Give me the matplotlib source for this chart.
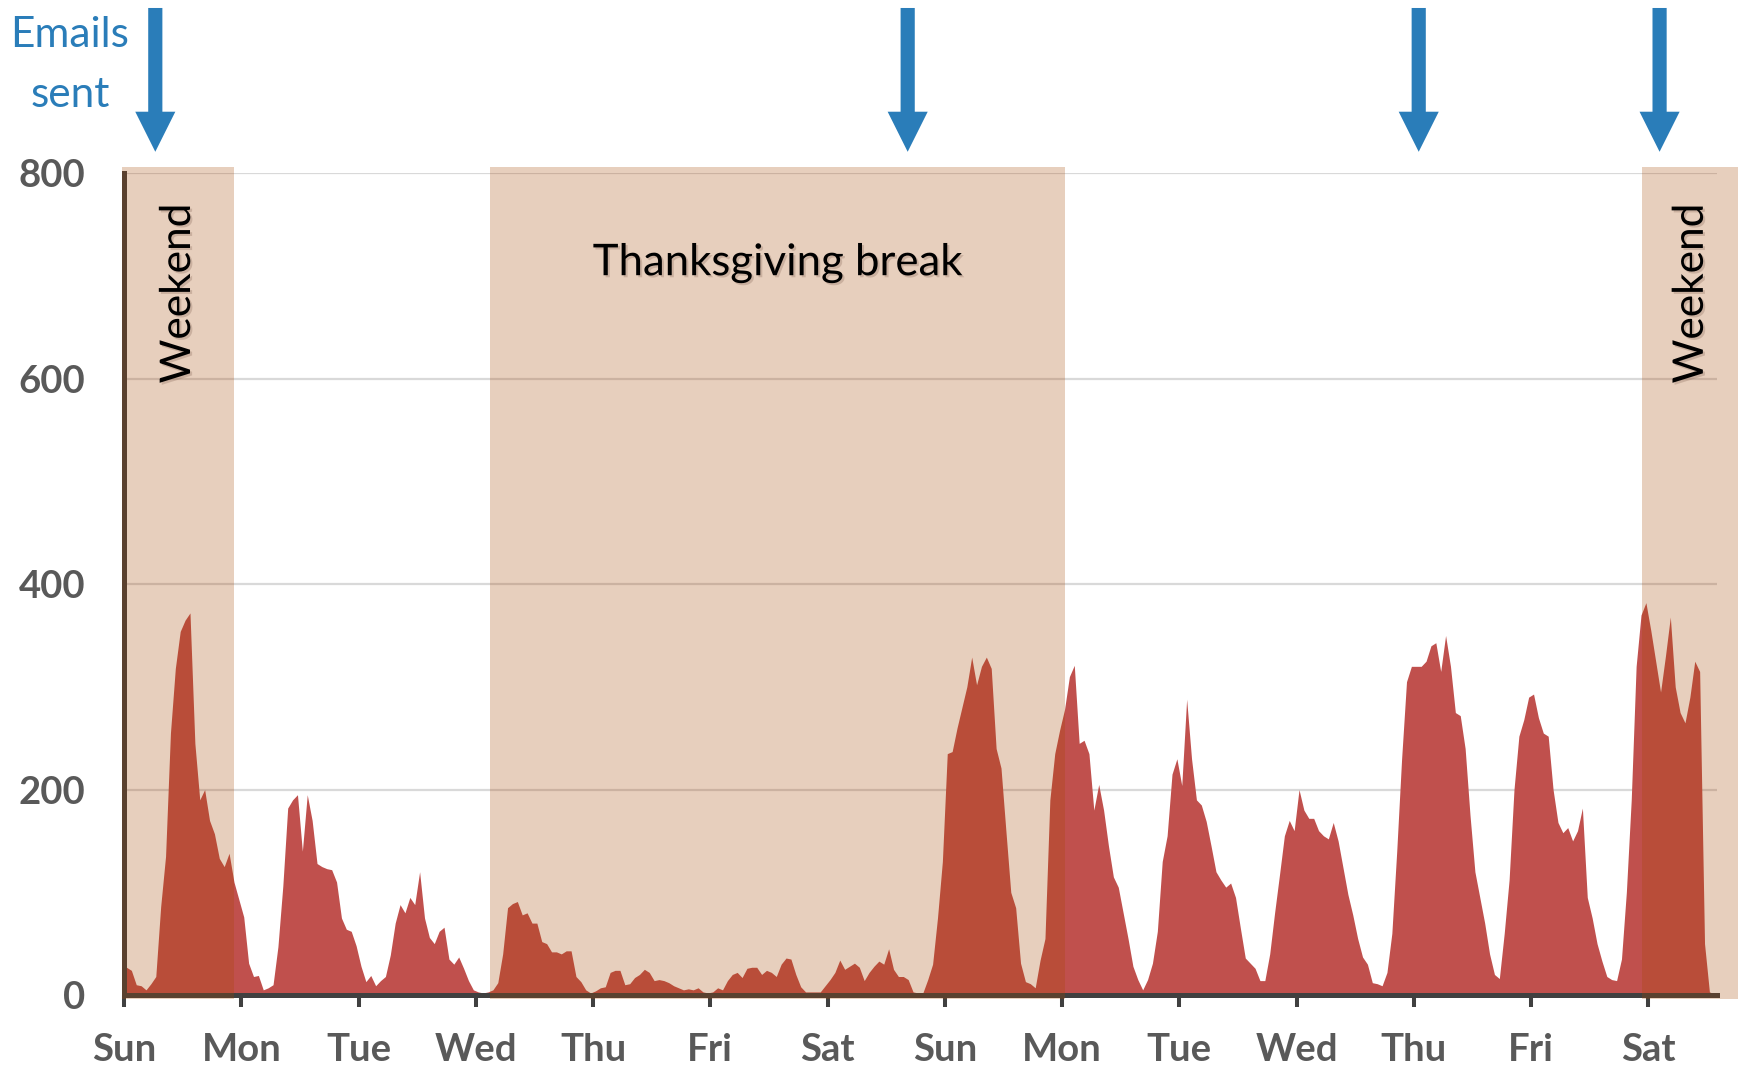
import numpy as np
import matplotlib.pyplot as plt
from matplotlib.patches import FancyArrow
import matplotlib.patheffects as pe

plt.rcParams['font.family'] = ['Lato', 'DejaVu Sans']

# hourly e-mail counts, two weeks starting on a Sunday
emails = [27, 24, 10, 9, 5, 11, 18, 86, 135, 255, 318, 354, 365, 372, 245, 190, 200, 170, 157, 133,
          125, 138, 110, 93, 76, 31, 18, 19, 5, 7, 10, 47, 106, 182, 190, 195, 140, 195, 170, 128,
          125, 123,
          122, 110, 75, 64, 62, 48, 28, 13, 19, 9, 14, 18, 39, 70, 88, 80, 95, 88, 120, 75,
          56, 50, 62, 66, 35, 30, 37, 26, 14, 5, 3, 2, 3, 5, 12, 40, 85, 89, 91, 78, 80, 70,
          70, 52, 50, 42, 42, 40, 43, 43, 18, 13, 5, 2, 4, 7, 8, 22, 24, 24, 10, 11,
          17, 20, 25, 22, 14, 15, 14, 12, 9, 7, 5, 6, 5, 7, 3, 2, 3, 7, 5, 14,
          20, 22, 17, 26, 27, 27, 20, 24, 22, 18, 30, 36, 35, 20, 8, 3, 3, 3, 3, 9,
          15, 22, 34, 25, 28, 31, 27, 14, 22, 28, 33, 30, 45, 25, 18, 18, 15, 3, 2, 2, 15,
          30, 75, 130, 235, 237, 260, 280, 300, 329, 302, 320, 329, 318, 240, 221, 160, 100, 85, 31, 13,
          11, 7, 34, 55, 190, 235, 258, 278, 310, 321, 245, 248, 235, 180, 205, 180, 145, 115, 105, 80, 55,
          28, 15, 5, 15, 31, 62, 130, 155, 215, 230, 204, 288, 230, 190, 185, 169, 145, 120, 112, 105,
          109, 95, 65, 36, 31, 26, 14, 14, 40, 80, 117, 155, 170, 160, 200,
          180, 172, 172, 160, 155, 152, 168, 150, 124, 98, 78, 55, 37, 30, 12, 11, 9, 22, 60, 140,
          230, 305, 320, 320, 320, 325, 340, 343, 315, 350, 320, 275, 272, 240, 175, 120, 95, 70, 40, 20,
          16, 60, 112, 200, 252, 268, 290, 293, 270, 255, 252, 200, 168, 158, 163, 150, 160, 182, 95, 75,
          50, 33, 18, 15, 14, 35, 100, 190, 320, 370, 382, 355, 325, 295, 330, 368, 300, 275, 265, 290,
          325, 315, 50, 3, 1]
day_labels = ['Sun', 'Mon', 'Tue', 'Wed', 'Thu', 'Fri', 'Sat',
              'Sun', 'Mon', 'Tue', 'Wed', 'Thu', 'Fri', 'Sat']
breaks = [(-0.5, 22.5), (75.0, 192.7), (310.7, 330.4)]   # hours
arrow_hours = [6.4, 160.4, 265.0, 314.3]

hours = np.arange(len(emails)) + 0.5

fig = plt.figure(figsize=(17.42, 10.70), dpi=100)
ax = fig.add_axes([0.0712, 0.0701, 0.9143, 0.7679])

ax.fill_between(hours, emails, 0, color='#c0504d', lw=0, zorder=2)

for a, b in breaks:
    ax.axvspan(a, b, ymin=-0.005, ymax=1.008, color='#a64601', alpha=0.26,
               lw=0, zorder=4, clip_on=False)

ax.set_xlim(0, len(emails))
ax.set_ylim(0, 800)
ax.set_yticks([0, 200, 400, 600, 800])
ax.set_xticks(np.arange(len(day_labels)) * 24)
ax.set_xticklabels(day_labels)
ax.set_axisbelow(True)
ax.grid(axis='y', color='#d9d9d9', lw=1.6)

for s in ['top', 'right']:
    ax.spines[s].set_visible(False)
ax.spines['left'].set_color('#404040')
ax.spines['left'].set_linewidth(3.6)
ax.spines['bottom'].set_color('#404040')
ax.spines['bottom'].set_linewidth(3.6)

ax.tick_params(axis='y', length=0, pad=28, labelsize=27.5, labelcolor='#595959')
ax.tick_params(axis='x', length=8.6, width=2.9, color='#404040', pad=19,
               labelsize=27.5, labelcolor='#595959')
for t in ax.get_xticklabels() + ax.get_yticklabels():
    t.set_fontweight('bold')

shadow = [pe.withSimplePatchShadow(offset=(1.5, -1.5), shadow_rgbFace='#8a6a5a', alpha=0.3)]
ax.text(11.05, 683, 'Weekend', rotation=90, ha='center', va='center',
        fontsize=30.5, color='black', zorder=6, path_effects=shadow)
ax.text(320.7, 683, 'Weekend', rotation=90, ha='center', va='center',
        fontsize=30.5, color='black', zorder=6, path_effects=shadow, clip_on=False)
ax.text(133.8, 713, 'Thanksgiving break', ha='center', va='center',
        fontsize=31.5, color='black', zorder=6, path_effects=shadow)

blue = '#2a7db9'
for h in arrow_hours:
    ax.add_patch(FancyArrow(h, 961, 0, -140, width=2.9, head_width=8.2, head_length=39,
                            length_includes_head=True, color=blue, lw=0, clip_on=False, zorder=6))

fig.text(70 / 1742, 1 - 47 / 1070, 'Emails', ha='center', va='baseline', fontsize=30.5, color=blue)
fig.text(70 / 1742, 1 - 107 / 1070, 'sent', ha='center', va='baseline', fontsize=30.5, color=blue)

fig.savefig('out.png', dpi=100)
